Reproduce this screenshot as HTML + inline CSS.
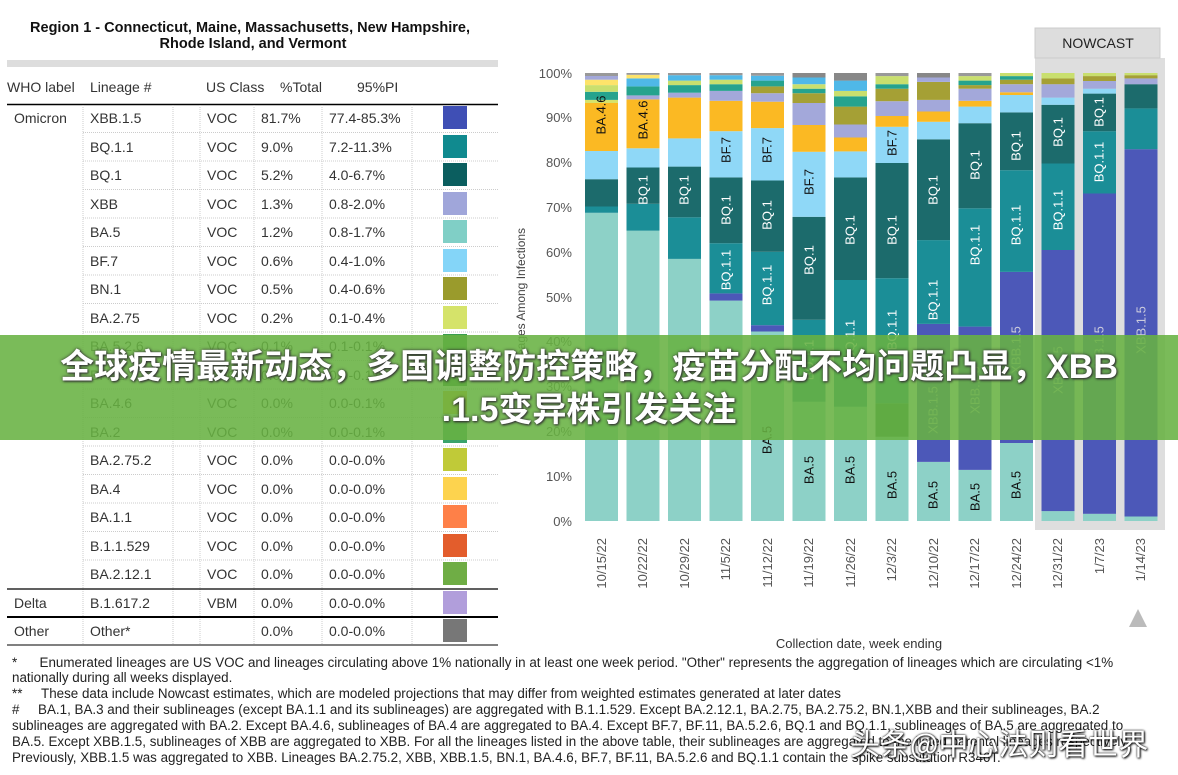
<!DOCTYPE html>
<html><head><meta charset="utf-8"><style>
body{margin:0;width:1178px;height:775px;background:#fff;overflow:hidden;position:relative;font-family:"Liberation Sans","Noto Sans CJK SC",sans-serif;}
svg{position:absolute;left:0;top:0}
.banner{position:absolute;left:0;top:335px;width:1178px;height:105px;background:rgba(104,178,66,0.88);}
.bt{position:absolute;left:0;width:1178px;text-align:center;color:#fff;font-weight:bold;font-size:34px;line-height:40px;font-family:"Liberation Sans","Noto Sans CJK SC",sans-serif;text-shadow:0 0 3px #333,1px 1px 2px #333;}
.fn{position:absolute;left:12px;font-size:13.4px;color:#222;white-space:nowrap;line-height:15px}
.wm{position:absolute;left:850px;top:720px;font-size:30px;color:#fff;font-family:"Noto Sans CJK SC",sans-serif;text-shadow:0 0 2px #000,1px 1px 2px #000;white-space:nowrap}
</style></head><body>
<svg width="1178" height="775" font-family="Liberation Sans, sans-serif">
<text x="250" y="32" text-anchor="middle" font-size="14.5" font-weight="bold" fill="#111">Region 1 - Connecticut, Maine, Massachusetts, New Hampshire,</text>
<text x="253" y="48" text-anchor="middle" font-size="14.5" font-weight="bold" fill="#111">Rhode Island, and Vermont</text>
<rect x="7" y="60" width="491" height="7" fill="#ddd"/>
<g font-size="14" fill="#333">
<text x="7" y="92">WHO label</text><text x="90" y="92">Lineage #</text><text x="206" y="92">US Class</text><text x="280" y="92">%Total</text><text x="357" y="92">95%PI</text>
</g>
<line x1="7" y1="104.5" x2="498" y2="104.5" stroke="#000" stroke-width="1.5"/>
<g stroke="#ccc" stroke-dasharray="1,1">
<line x1="83" y1="105" x2="83" y2="645"/><line x1="173" y1="105" x2="173" y2="645"/><line x1="200" y1="105" x2="200" y2="645"/><line x1="254" y1="105" x2="254" y2="645"/><line x1="322" y1="105" x2="322" y2="645"/><line x1="412" y1="105" x2="412" y2="645"/>
<line x1="83" y1="132.5" x2="498" y2="132.5"/><line x1="83" y1="161" x2="498" y2="161"/><line x1="83" y1="189.5" x2="498" y2="189.5"/><line x1="83" y1="218" x2="498" y2="218"/><line x1="83" y1="246.5" x2="498" y2="246.5"/><line x1="83" y1="275" x2="498" y2="275"/><line x1="83" y1="303.5" x2="498" y2="303.5"/><line x1="83" y1="332" x2="498" y2="332"/><line x1="83" y1="360.5" x2="498" y2="360.5"/><line x1="83" y1="389" x2="498" y2="389"/><line x1="83" y1="417.5" x2="498" y2="417.5"/><line x1="83" y1="446" x2="498" y2="446"/><line x1="83" y1="474.5" x2="498" y2="474.5"/><line x1="83" y1="503" x2="498" y2="503"/><line x1="83" y1="531.5" x2="498" y2="531.5"/><line x1="83" y1="560" x2="498" y2="560"/>
</g>
<line x1="7" y1="589" x2="498" y2="589" stroke="#000" stroke-width="1.2"/>
<line x1="7" y1="617" x2="498" y2="617" stroke="#000" stroke-width="2"/>
<line x1="7" y1="645" x2="498" y2="645" stroke="#000" stroke-width="1"/>
<g font-size="14" fill="#333">
<text x="14" y="123">Omicron</text><text x="14" y="608">Delta</text><text x="14" y="636">Other</text>
<text x="90" y="123">XBB.1.5</text><text x="207" y="123">VOC</text><text x="261" y="123">81.7%</text><text x="329" y="123">77.4-85.3%</text>
<text x="90" y="152">BQ.1.1</text><text x="207" y="152">VOC</text><text x="261" y="152">9.0%</text><text x="329" y="152">7.2-11.3%</text>
<text x="90" y="180">BQ.1</text><text x="207" y="180">VOC</text><text x="261" y="180">5.2%</text><text x="329" y="180">4.0-6.7%</text>
<text x="90" y="209">XBB</text><text x="207" y="209">VOC</text><text x="261" y="209">1.3%</text><text x="329" y="209">0.8-2.0%</text>
<text x="90" y="237">BA.5</text><text x="207" y="237">VOC</text><text x="261" y="237">1.2%</text><text x="329" y="237">0.8-1.7%</text>
<text x="90" y="266">BF.7</text><text x="207" y="266">VOC</text><text x="261" y="266">0.6%</text><text x="329" y="266">0.4-1.0%</text>
<text x="90" y="294">BN.1</text><text x="207" y="294">VOC</text><text x="261" y="294">0.5%</text><text x="329" y="294">0.4-0.6%</text>
<text x="90" y="323">BA.2.75</text><text x="207" y="323">VOC</text><text x="261" y="323">0.2%</text><text x="329" y="323">0.1-0.4%</text>
<text x="90" y="351">BA.5.2.6</text><text x="207" y="351">VOC</text><text x="261" y="351">0.1%</text><text x="329" y="351">0.1-0.1%</text>
<text x="90" y="380">BF.11</text><text x="207" y="380">VOC</text><text x="261" y="380">0.0%</text><text x="329" y="380">0.0-0.1%</text>
<text x="90" y="408">BA.4.6</text><text x="207" y="408">VOC</text><text x="261" y="408">0.0%</text><text x="329" y="408">0.0-0.1%</text>
<text x="90" y="437">BA.2</text><text x="207" y="437">VOC</text><text x="261" y="437">0.0%</text><text x="329" y="437">0.0-0.1%</text>
<text x="90" y="465">BA.2.75.2</text><text x="207" y="465">VOC</text><text x="261" y="465">0.0%</text><text x="329" y="465">0.0-0.0%</text>
<text x="90" y="494">BA.4</text><text x="207" y="494">VOC</text><text x="261" y="494">0.0%</text><text x="329" y="494">0.0-0.0%</text>
<text x="90" y="522">BA.1.1</text><text x="207" y="522">VOC</text><text x="261" y="522">0.0%</text><text x="329" y="522">0.0-0.0%</text>
<text x="90" y="551">B.1.1.529</text><text x="207" y="551">VOC</text><text x="261" y="551">0.0%</text><text x="329" y="551">0.0-0.0%</text>
<text x="90" y="579">BA.2.12.1</text><text x="207" y="579">VOC</text><text x="261" y="579">0.0%</text><text x="329" y="579">0.0-0.0%</text>
<text x="90" y="608">B.1.617.2</text><text x="207" y="608">VBM</text><text x="261" y="608">0.0%</text><text x="329" y="608">0.0-0.0%</text>
<text x="90" y="636">Other*</text><text x="261" y="636">0.0%</text><text x="329" y="636">0.0-0.0%</text>
</g>
<g>
<rect x="443" y="106" width="24" height="23" fill="#3f4fb5"/><rect x="443" y="135" width="24" height="23" fill="#108a8f"/><rect x="443" y="163" width="24" height="23" fill="#0b5e5f"/><rect x="443" y="192" width="24" height="23" fill="#a0a6da"/><rect x="443" y="220" width="24" height="23" fill="#80cfc6"/><rect x="443" y="249" width="24" height="23" fill="#84d5f8"/><rect x="443" y="277" width="24" height="23" fill="#9a9b2c"/><rect x="443" y="306" width="24" height="23" fill="#d5e36a"/><rect x="443" y="334" width="24" height="23" fill="#3a9d4e"/><rect x="443" y="363" width="24" height="23" fill="#2a7d3a"/><rect x="443" y="391" width="24" height="23" fill="#f7b52a"/><rect x="443" y="420" width="24" height="23" fill="#3aa36b"/><rect x="443" y="448" width="24" height="23" fill="#c0ca38"/><rect x="443" y="477" width="24" height="23" fill="#fdd34e"/><rect x="443" y="505" width="24" height="23" fill="#fe8048"/><rect x="443" y="534" width="24" height="23" fill="#e35d2c"/><rect x="443" y="562" width="24" height="23" fill="#6fad45"/><rect x="443" y="591" width="24" height="23" fill="#b19edb"/><rect x="443" y="619" width="24" height="23" fill="#777"/>
</g>

<rect x="1035" y="58" width="130" height="472" fill="#dedede"/>
<rect x="1035" y="28" width="125" height="30" fill="#ddd" stroke="#ccc"/>
<text x="1098" y="48" text-anchor="middle" font-size="14" fill="#222">NOWCAST</text>
<g font-size="13" fill="#555" text-anchor="end">
<text x="572" y="78">100%</text><text x="572" y="122">90%</text><text x="572" y="167">80%</text><text x="572" y="212">70%</text><text x="572" y="257">60%</text><text x="572" y="302">50%</text><text x="572" y="346">40%</text><text x="572" y="391">30%</text><text x="572" y="436">20%</text><text x="572" y="481">10%</text><text x="572" y="526">0%</text>
</g>
<text transform="translate(525,300) rotate(-90)" text-anchor="middle" font-size="12" fill="#444">Lineages Among Infections</text>
<g id="bars">
<g transform="translate(585,0)"><rect y="212.8" width="33" height="308.2" fill="#8dd1c7"/><rect y="206.5" width="33" height="6.3" fill="#1b8e97"/><rect y="179.2" width="33" height="27.3" fill="#1c6b6c"/><rect y="151" width="33" height="28.2" fill="#8fd8f7"/><rect y="103" width="33" height="48" fill="#fbb923"/><rect y="99.9" width="33" height="3.1" fill="#d7e36b"/><rect y="91.8" width="33" height="8.1" fill="#26a38e"/><rect y="85.1" width="33" height="6.7" fill="#c9df6e"/><rect y="79.7" width="33" height="5.4" fill="#fde36a"/><rect y="76" width="33" height="3.7" fill="#a3a8da"/><rect y="73" width="33" height="3" fill="#999"/></g>
<g transform="translate(626.5,0)"><rect y="230.7" width="33" height="290.3" fill="#8dd1c7"/><rect y="203.8" width="33" height="26.9" fill="#1b8e97"/><rect y="167.5" width="33" height="36.3" fill="#1c6b6c"/><rect y="148.3" width="33" height="19.2" fill="#8fd8f7"/><rect y="99.4" width="33" height="48.9" fill="#fbb923"/><rect y="95.4" width="33" height="4" fill="#a3a8da"/><rect y="86.4" width="33" height="9" fill="#26a38e"/><rect y="78.4" width="33" height="8" fill="#4fb8e8"/><rect y="74.8" width="33" height="3.6" fill="#fde36a"/><rect y="73" width="33" height="1.8" fill="#999"/></g>
<g transform="translate(668,0)"><rect y="258.9" width="33" height="262.1" fill="#8dd1c7"/><rect y="217.3" width="33" height="41.6" fill="#1b8e97"/><rect y="166.6" width="33" height="50.7" fill="#1c6b6c"/><rect y="138.4" width="33" height="28.2" fill="#8fd8f7"/><rect y="97.6" width="33" height="40.8" fill="#fbb923"/><rect y="92.7" width="33" height="4.9" fill="#a3a8da"/><rect y="85.1" width="33" height="7.6" fill="#26a38e"/><rect y="80.6" width="33" height="4.5" fill="#c9df6e"/><rect y="75.2" width="33" height="5.4" fill="#4fb8e8"/><rect y="73" width="33" height="2.2" fill="#999"/></g>
<g transform="translate(709.5,0)"><rect y="300.6" width="33" height="220.4" fill="#8dd1c7"/><rect y="293.4" width="33" height="7.2" fill="#4c58b8"/><rect y="243.2" width="33" height="50.2" fill="#1b8e97"/><rect y="177.4" width="33" height="65.8" fill="#1c6b6c"/><rect y="131.2" width="33" height="46.2" fill="#8fd8f7"/><rect y="100.8" width="33" height="30.4" fill="#fbb923"/><rect y="90.9" width="33" height="9.9" fill="#a3a8da"/><rect y="84.2" width="33" height="6.7" fill="#26a38e"/><rect y="79.7" width="33" height="4.5" fill="#c9df6e"/><rect y="75.2" width="33" height="4.5" fill="#4fb8e8"/><rect y="73" width="33" height="2.2" fill="#999"/></g>
<g transform="translate(751,0)"><rect y="331.5" width="33" height="189.5" fill="#8dd1c7"/><rect y="325.2" width="33" height="6.3" fill="#4c58b8"/><rect y="251.8" width="33" height="73.4" fill="#1b8e97"/><rect y="180.5" width="33" height="71.3" fill="#1c6b6c"/><rect y="128.1" width="33" height="52.4" fill="#8fd8f7"/><rect y="101.7" width="33" height="26.4" fill="#fbb923"/><rect y="93.2" width="33" height="8.5" fill="#a3a8da"/><rect y="86.4" width="33" height="6.8" fill="#a5a035"/><rect y="80.6" width="33" height="5.8" fill="#26a38e"/><rect y="75.7" width="33" height="4.9" fill="#4fb8e8"/><rect y="73" width="33" height="2.7" fill="#999"/></g>
<g transform="translate(792.5,0)"><rect y="401.8" width="33" height="119.2" fill="#8dd1c7"/><rect y="319.8" width="33" height="82" fill="#1b8e97"/><rect y="216.8" width="33" height="103" fill="#1c6b6c"/><rect y="151.8" width="33" height="65" fill="#8fd8f7"/><rect y="125" width="33" height="26.8" fill="#fbb923"/><rect y="103" width="33" height="22" fill="#a3a8da"/><rect y="93.2" width="33" height="9.8" fill="#a5a035"/><rect y="88.7" width="33" height="4.5" fill="#26a38e"/><rect y="84.2" width="33" height="4.5" fill="#c9df6e"/><rect y="77.5" width="33" height="6.7" fill="#4fb8e8"/><rect y="73" width="33" height="4.5" fill="#888"/></g>
<g transform="translate(834,0)"><rect y="406.8" width="33" height="114.2" fill="#8dd1c7"/><rect y="280" width="33" height="126.8" fill="#1b8e97"/><rect y="177.4" width="33" height="102.6" fill="#1c6b6c"/><rect y="151.4" width="33" height="26" fill="#8fd8f7"/><rect y="137.5" width="33" height="13.9" fill="#fbb923"/><rect y="124.5" width="33" height="13" fill="#a3a8da"/><rect y="106.6" width="33" height="17.9" fill="#a5a035"/><rect y="96.3" width="33" height="10.3" fill="#26a38e"/><rect y="90.9" width="33" height="5.4" fill="#c9df6e"/><rect y="80.6" width="33" height="10.3" fill="#4fb8e8"/><rect y="73" width="33" height="7.6" fill="#888"/></g>
<g transform="translate(875.5,0)"><rect y="436.8" width="33" height="84.2" fill="#8dd1c7"/><rect y="403.2" width="33" height="33.6" fill="#2d7a4a"/><rect y="278.2" width="33" height="125" fill="#1b8e97"/><rect y="163" width="33" height="115.2" fill="#1c6b6c"/><rect y="126.8" width="33" height="36.2" fill="#8fd8f7"/><rect y="116" width="33" height="10.8" fill="#fbb923"/><rect y="101.2" width="33" height="14.8" fill="#a3a8da"/><rect y="88.7" width="33" height="12.5" fill="#a5a035"/><rect y="84.2" width="33" height="4.5" fill="#26a38e"/><rect y="76.1" width="33" height="8.1" fill="#c9df6e"/><rect y="73" width="33" height="3.1" fill="#999"/></g>
<g transform="translate(917,0)"><rect y="461.9" width="33" height="59.1" fill="#8dd1c7"/><rect y="323.9" width="33" height="138" fill="#4c58b8"/><rect y="240.1" width="33" height="83.8" fill="#1b8e97"/><rect y="139.3" width="33" height="100.8" fill="#1c6b6c"/><rect y="121.8" width="33" height="17.5" fill="#8fd8f7"/><rect y="111.5" width="33" height="10.3" fill="#fbb923"/><rect y="99.9" width="33" height="11.6" fill="#a3a8da"/><rect y="81.9" width="33" height="18" fill="#a5a035"/><rect y="77.5" width="33" height="4.4" fill="#a3a8da"/><rect y="73" width="33" height="4.5" fill="#888"/></g>
<g transform="translate(958.5,0)"><rect y="469.9" width="33" height="51.1" fill="#8dd1c7"/><rect y="326.6" width="33" height="143.3" fill="#4c58b8"/><rect y="208.3" width="33" height="118.3" fill="#1b8e97"/><rect y="123.2" width="33" height="85.1" fill="#1c6b6c"/><rect y="106.6" width="33" height="16.6" fill="#8fd8f7"/><rect y="100.8" width="33" height="5.8" fill="#fbb923"/><rect y="88.7" width="33" height="12.1" fill="#a3a8da"/><rect y="85.1" width="33" height="3.6" fill="#a5a035"/><rect y="80.6" width="33" height="4.5" fill="#26a38e"/><rect y="76.1" width="33" height="4.5" fill="#c9df6e"/><rect y="73" width="33" height="3.1" fill="#999"/></g>
<g transform="translate(1000,0)"><rect y="443" width="33" height="78" fill="#8dd1c7"/><rect y="271.9" width="33" height="171.1" fill="#4c58b8"/><rect y="170.2" width="33" height="101.7" fill="#1b8e97"/><rect y="112.4" width="33" height="57.8" fill="#1c6b6c"/><rect y="95" width="33" height="17.4" fill="#8fd8f7"/><rect y="92.3" width="33" height="2.7" fill="#fbb923"/><rect y="84.2" width="33" height="8.1" fill="#a3a8da"/><rect y="79.7" width="33" height="4.5" fill="#a5a035"/><rect y="76.1" width="33" height="3.6" fill="#26a38e"/><rect y="73" width="33" height="3.1" fill="#c9df6e"/></g>
<g transform="translate(1041.5,0)"><rect y="511.1" width="33" height="9.9" fill="#8dd1c7"/><rect y="250" width="33" height="261.1" fill="#4c58b8"/><rect y="163.5" width="33" height="86.5" fill="#1b8e97"/><rect y="104.8" width="33" height="58.7" fill="#1c6b6c"/><rect y="97.6" width="33" height="7.2" fill="#8fd8f7"/><rect y="84.2" width="33" height="13.4" fill="#a3a8da"/><rect y="78.4" width="33" height="5.8" fill="#a5a035"/><rect y="73" width="33" height="5.4" fill="#c9df6e"/></g>
<g transform="translate(1083,0)"><rect y="513.8" width="33" height="7.2" fill="#8dd1c7"/><rect y="193.5" width="33" height="320.3" fill="#4c58b8"/><rect y="131.2" width="33" height="62.3" fill="#1b8e97"/><rect y="93.6" width="33" height="37.6" fill="#1c6b6c"/><rect y="88.7" width="33" height="4.9" fill="#8fd8f7"/><rect y="81" width="33" height="7.7" fill="#a3a8da"/><rect y="76.1" width="33" height="4.9" fill="#a5a035"/><rect y="73" width="33" height="3.1" fill="#c9df6e"/></g>
<g transform="translate(1124.5,0)"><rect y="516.5" width="33" height="4.5" fill="#8dd1c7"/><rect y="149.2" width="33" height="367.3" fill="#4c58b8"/><rect y="108.4" width="33" height="40.8" fill="#1b8e97"/><rect y="84.2" width="33" height="24.2" fill="#1c6b6c"/><rect y="78.4" width="33" height="5.8" fill="#a3a8da"/><rect y="75.2" width="33" height="3.2" fill="#a5a035"/><rect y="73" width="33" height="2.2" fill="#c9df6e"/></g>
</g>
<g font-size="13" text-anchor="middle" dominant-baseline="central">
<text transform="translate(601,115) rotate(-90)" fill="#111">BA.4.6</text>
<text transform="translate(643,120) rotate(-90)" fill="#111">BA.4.6</text>
<text transform="translate(643,190) rotate(-90)" fill="#fff">BQ.1</text>
<text transform="translate(684,190) rotate(-90)" fill="#fff">BQ.1</text>
<text transform="translate(726,150) rotate(-90)" fill="#111">BF.7</text>
<text transform="translate(726,210) rotate(-90)" fill="#fff">BQ.1</text>
<text transform="translate(726,270) rotate(-90)" fill="#fff">BQ.1.1</text>
<text transform="translate(767,150) rotate(-90)" fill="#111">BF.7</text>
<text transform="translate(767,215) rotate(-90)" fill="#fff">BQ.1</text>
<text transform="translate(767,285) rotate(-90)" fill="#fff">BQ.1.1</text>
<text transform="translate(767,440) rotate(-90)" fill="#111">BA.5</text>
<text transform="translate(809,182) rotate(-90)" fill="#111">BF.7</text>
<text transform="translate(809,260) rotate(-90)" fill="#fff">BQ.1</text>
<text transform="translate(809,360) rotate(-90)" fill="#fff">BQ.1.1</text>
<text transform="translate(809,470) rotate(-90)" fill="#111">BA.5</text>
<text transform="translate(850,230) rotate(-90)" fill="#fff">BQ.1</text>
<text transform="translate(850,340) rotate(-90)" fill="#fff">BQ.1.1</text>
<text transform="translate(850,470) rotate(-90)" fill="#111">BA.5</text>
<text transform="translate(892,143) rotate(-90)" fill="#111">BF.7</text>
<text transform="translate(892,230) rotate(-90)" fill="#fff">BQ.1</text>
<text transform="translate(892,330) rotate(-90)" fill="#fff">BQ.1.1</text>
<text transform="translate(892,485) rotate(-90)" fill="#111">BA.5</text>
<text transform="translate(933,190) rotate(-90)" fill="#fff">BQ.1</text>
<text transform="translate(933,300) rotate(-90)" fill="#fff">BQ.1.1</text>
<text transform="translate(933,410) rotate(-90)" fill="#ccd">XBB.1.5</text>
<text transform="translate(933,495) rotate(-90)" fill="#111">BA.5</text>
<text transform="translate(975,165) rotate(-90)" fill="#fff">BQ.1</text>
<text transform="translate(975,245) rotate(-90)" fill="#fff">BQ.1.1</text>
<text transform="translate(975,390) rotate(-90)" fill="#ccd">XBB.1.5</text>
<text transform="translate(975,497) rotate(-90)" fill="#111">BA.5</text>
<text transform="translate(1016,146) rotate(-90)" fill="#fff">BQ.1</text>
<text transform="translate(1016,225) rotate(-90)" fill="#fff">BQ.1.1</text>
<text transform="translate(1016,350) rotate(-90)" fill="#ccd">XBB.1.5</text>
<text transform="translate(1016,485) rotate(-90)" fill="#111">BA.5</text>
<text transform="translate(1058,132) rotate(-90)" fill="#fff">BQ.1</text>
<text transform="translate(1058,210) rotate(-90)" fill="#fff">BQ.1.1</text>
<text transform="translate(1058,370) rotate(-90)" fill="#ccd">XBB.1.5</text>
<text transform="translate(1099,112) rotate(-90)" fill="#fff">BQ.1</text>
<text transform="translate(1099,162) rotate(-90)" fill="#fff">BQ.1.1</text>
<text transform="translate(1099,350) rotate(-90)" fill="#ccd">XBB.1.5</text>
<text transform="translate(1141,330) rotate(-90)" fill="#ccd">XBB.1.5</text>
</g>
<g font-size="13" fill="#555" text-anchor="end">
<text transform="translate(606,538) rotate(-90)">10/15/22</text>
<text transform="translate(647,538) rotate(-90)">10/22/22</text>
<text transform="translate(689,538) rotate(-90)">10/29/22</text>
<text transform="translate(730,538) rotate(-90)">11/5/22</text>
<text transform="translate(772,538) rotate(-90)">11/12/22</text>
<text transform="translate(813,538) rotate(-90)">11/19/22</text>
<text transform="translate(855,538) rotate(-90)">11/26/22</text>
<text transform="translate(896,538) rotate(-90)">12/3/22</text>
<text transform="translate(938,538) rotate(-90)">12/10/22</text>
<text transform="translate(979,538) rotate(-90)">12/17/22</text>
<text transform="translate(1021,538) rotate(-90)">12/24/22</text>
<text transform="translate(1062,538) rotate(-90)">12/31/22</text>
<text transform="translate(1104,538) rotate(-90)">1/7/23</text>
<text transform="translate(1145,538) rotate(-90)">1/14/23</text>
</g>
<polygon points="1138,609 1129,627 1147,627" fill="#bbb"/>
<text x="859" y="648" text-anchor="middle" font-size="13" fill="#333">Collection date, week ending</text>
</svg>
<div class="banner"></div>
<div class="bt" style="top:347px">全球疫情最新动态，多国调整防控策略，疫苗分配不均问题凸显，XBB</div>
<div class="bt" style="top:390px">.1.5变异株引发关注</div>
<div class="fn" style="top:655px">*&nbsp;&nbsp;&nbsp;&nbsp;&nbsp;&nbsp;Enumerated lineages are US VOC and lineages circulating above 1% nationally in at least one week period. "Other" represents the aggregation of lineages which are circulating &lt;1%</div>
<div class="fn" style="top:670px">nationally during all weeks displayed.</div>
<div class="fn" style="top:686px">**&nbsp;&nbsp;&nbsp;&nbsp;&nbsp;These data include Nowcast estimates, which are modeled projections that may differ from weighted estimates generated at later dates</div>
<div class="fn" style="top:702px">#&nbsp;&nbsp;&nbsp;&nbsp;&nbsp;BA.1, BA.3 and their sublineages (except BA.1.1 and its sublineages) are aggregated with B.1.1.529. Except BA.2.12.1, BA.2.75, BA.2.75.2, BN.1,XBB and their sublineages, BA.2</div>
<div class="fn" style="top:718px">sublineages are aggregated with BA.2. Except BA.4.6, sublineages of BA.4 are aggregated to BA.4. Except BF.7, BF.11, BA.5.2.6, BQ.1 and BQ.1.1, sublineages of BA.5 are aggregated to</div>
<div class="fn" style="top:734px">BA.5. Except XBB.1.5, sublineages of XBB are aggregated to XBB. For all the lineages listed in the above table, their sublineages are aggregated to the listed parental lineages respectively.</div>
<div class="fn" style="top:750px">Previously, XBB.1.5 was aggregated to XBB. Lineages BA.2.75.2, XBB, XBB.1.5, BN.1, BA.4.6, BF.7, BF.11, BA.5.2.6 and BQ.1.1 contain the spike substitution R346T.</div>
<div class="wm">头条@中心法则看世界</div>
</body></html>
